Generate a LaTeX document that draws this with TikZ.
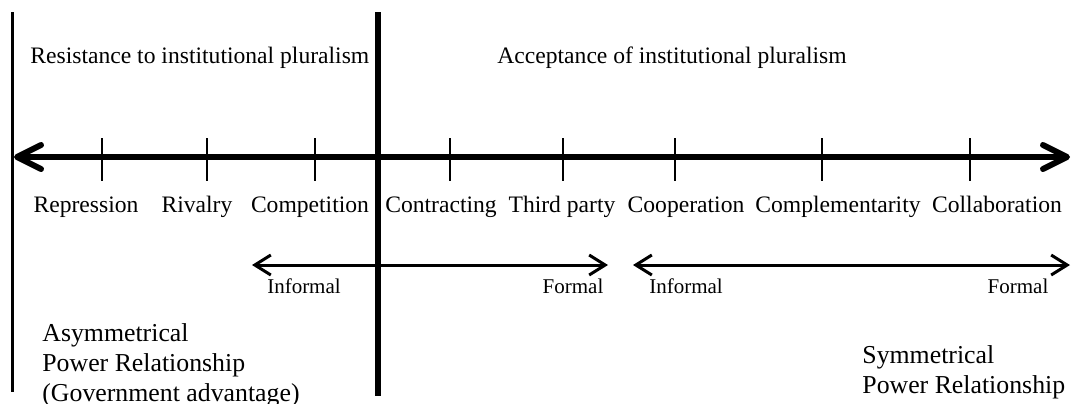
\documentclass[tikz,border=0pt]{standalone}
\usepackage{fontspec}
\setmainfont{Liberation Serif}
\usetikzlibrary{positioning,arrows.meta}

\begin{document}
\begin{tikzpicture}[x=0.5pt, y=-0.5pt,
        lab/.style={font=\fontsize{11.8}{14.5}\selectfont, inner sep=0pt, anchor=base},
        small/.style={font=\fontsize{10.5}{12}\selectfont, inner sep=0pt, anchor=base},
        power/.style={font=\fontsize{12.9}{15}\selectfont, inner sep=0pt, anchor=north west, align=left},
        tickmark/.style={line width=0.9pt},
        axis/.style={line width=3pt, line cap=round,
            {Straight Barb[length=12pt, width=12pt, round]}-{Straight Barb[length=12pt, width=12pt, round]}},
        spanline/.style={line width=1.5pt,
            {Straight Barb[length=8pt, width=10pt]}-{Straight Barb[length=8pt, width=10pt]}}
    ]
        \useasboundingbox (0,0) rectangle (1076,403);

        % dividers
        \coordinate (lt) at (12,12);
        \coordinate (lb) at (12,392);
        \coordinate (mt) at (378,12);
        \coordinate (mb) at (378,396);
        \draw [line width=1.5pt] (lt) -- (lb);
        \draw [line width=3pt] (mt) -- (mb);

        % main axis
        \coordinate (al) at (14,157);
        \coordinate (ar) at (1070,157);
        \draw [axis] (al) -- (ar);
        \foreach \x/\n in {102/a,207/b,315/c,450/d,563/e,675/f,822/g,970/h} {
            \coordinate (t\n) at (\x,138);
            \coordinate (b\n) at (\x,181);
            \draw [tickmark] (t\n) -- (b\n);
        }

        % headers
        \node [lab, anchor=base west] (resist) at (30,63) {Resistance to institutional pluralism};
        \node [lab, anchor=base west] (accept) at (497,63) {Acceptance of institutional pluralism};

        % relations
        \node [lab] (repr) at (86,212) {Repression};
        \node [lab] (riv) at (197,212) {Rivalry};
        \node [lab] (comp) at (310,212) {Competition};
        \node [lab] (contr) at (441,212) {Contracting};
        \node [lab] (third) at (562,212) {Third party};
        \node [lab] (coop) at (686,212) {Cooperation};
        \node [lab] (compl) at (838,212) {Complementarity};
        \node [lab] (coll) at (997,212) {Collaboration};

        % informal / formal ranges
        \coordinate (r1l) at (252,265);
        \coordinate (r1r) at (608,265);
        \coordinate (r2l) at (633,265);
        \coordinate (r2r) at (1070,265);
        \draw [spanline] (r1l) -- (r1r);
        \draw [spanline] (r2l) -- (r2r);
        \node [small] (inf1) at (304,293) {Informal};
        \node [small] (for1) at (573,293) {Formal};
        \node [small] (inf2) at (686,293) {Informal};
        \node [small] (for2) at (1018,293) {Formal};

        % power relationship
        \node [power] (asym) at (42,323)
            {Asymmetrical\\Power Relationship\\(Government advantage)};
        \node [power] (sym) at (862,345)
            {Symmetrical\\Power Relationship};
    \end{tikzpicture}
\end{document}
